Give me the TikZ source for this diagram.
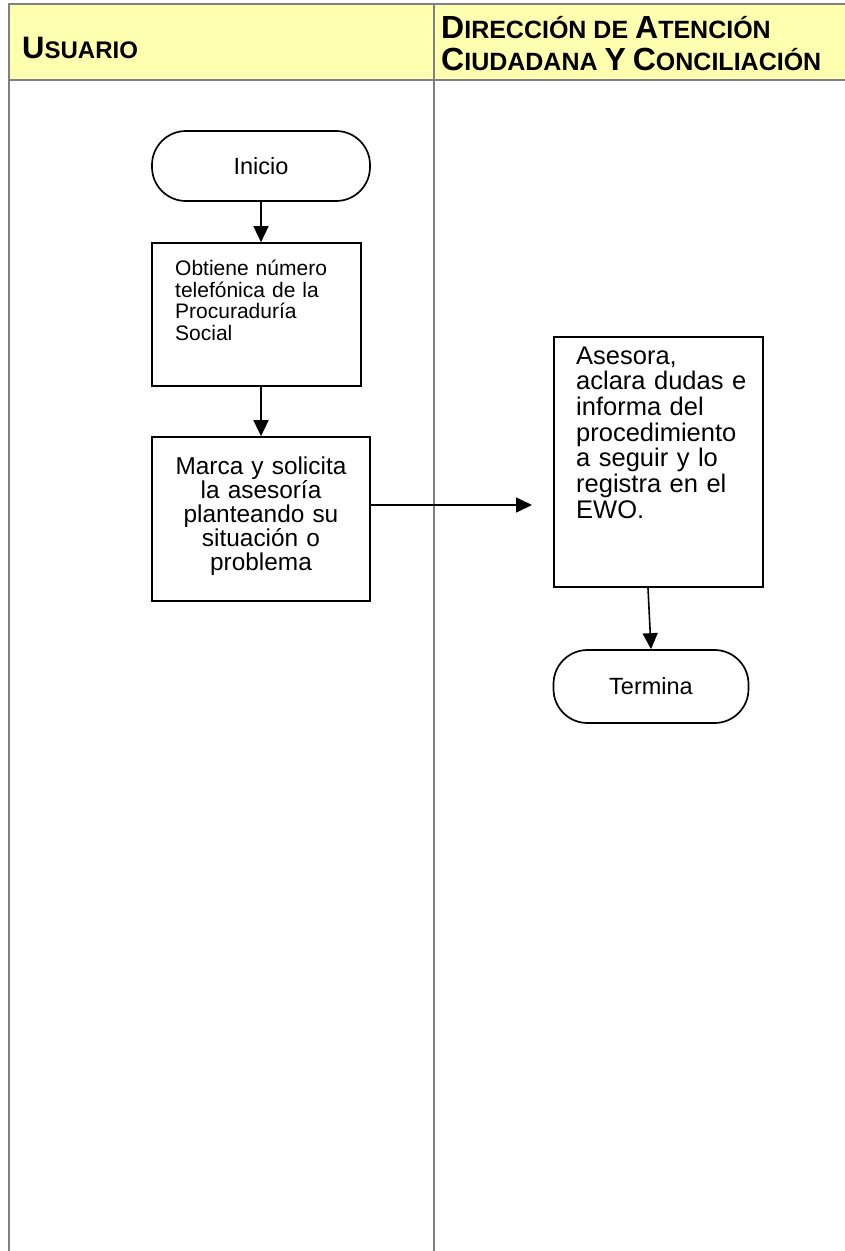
\documentclass[tikz,border=0pt]{standalone}
\usepackage{fontspec}
\setmainfont{Liberation Sans}
\usetikzlibrary{arrows.meta}
\definecolor{lanegray}{HTML}{808080}
\definecolor{headfill}{HTML}{FFFFB0}
% capital letters of the header's small caps
\newcommand\capl[1]{{\fontsize{32}{32}\selectfont #1}}
\newcommand\capu[1]{{\fontsize{31}{32}\selectfont #1}}
\begin{document}
\begin{tikzpicture}[x=1pt,y=-1pt,
  lane/.style={draw=lanegray,line width=2pt},
  headtext/.style={anchor=base west,inner sep=0pt,font=\bfseries\fontsize{25}{32}\selectfont},
  terminal/.style={draw,line width=1.7pt,rounded corners=34pt,inner sep=0pt,
    font=\fontsize{23.5}{25}\selectfont},
  stepbox/.style={draw,line width=1.7pt,inner sep=0pt},
  boxtext/.style={inner sep=0pt},
  flow/.style={line width=1.6pt,-{Triangle[length=16pt,width=15pt]}}]
\useasboundingbox (0,0) rectangle (845,1251);

% swimlane header and lane borders
\fill[headfill] (8.5,4) rectangle (845,79.5);
\draw[lane] (845,4) -- (8.5,4) -- (8.5,1251);
\draw[lane] (434,4) -- (434,1251);
\draw[lane] (8.5,79.5) -- (845,79.5);

\node[headtext,font=\bfseries\fontsize{24}{32}\selectfont] (hu) at (22,58) {\capu{U}SUARIO};
\node[headtext] (hd1) at (441,38) {\capl{D}IRECCIÓN DE \capl{A}TENCIÓN};
\node[headtext] (hd2) at (441,70) {\capl{C}IUDADANA \capl{Y} \capl{C}ONCILIACIÓN};

% flow nodes
\node[terminal,minimum width=218pt,minimum height=70pt] (ini) at (261,166) {Inicio};
\node[stepbox,minimum width=209pt,minimum height=143pt] (b1) at (256.5,314.5) {};
\node[boxtext,anchor=base west,text width=180pt,align=left,
  font=\fontsize{21}{21.5}\selectfont] (t1) at (175,275.5)
  {Obtiene número\\telefónica de la\\Procuraduría\\Social};
\node[stepbox,minimum width=218pt,minimum height=164pt] (b2) at (261,519) {};
\node[boxtext,anchor=base,text width=210pt,align=center,
  font=\fontsize{24.4}{24}\selectfont] (t2) at (261,474.7)
  {Marca y solicita\\la asesoría\\planteando su\\situación o\\problema};
\node[stepbox,minimum width=209pt,minimum height=250pt] (b3) at (658.5,462) {};
\node[boxtext,anchor=base west,text width=185pt,align=left,
  font=\fontsize{25.5}{25.7}\selectfont] (t3) at (576,364)
  {Asesora,\\aclara dudas e\\informa del\\procedimiento\\a seguir y lo\\registra en el\\EWO.};
\node[terminal,minimum width=195pt,minimum height=73pt] (fin) at (651,686.5) {Termina};

% connectors
\coordinate (c3) at (532,505);
\draw[flow] (ini.south) -- (ini.south |- b1.north);
\draw[flow] (b2.north |- b1.south) -- (b2.north);
\draw[flow] (b2.east |- c3) -- (c3);
\draw[flow] ([xshift=-10.5pt]b3.south) -- (fin.north);
\end{tikzpicture}
\end{document}
